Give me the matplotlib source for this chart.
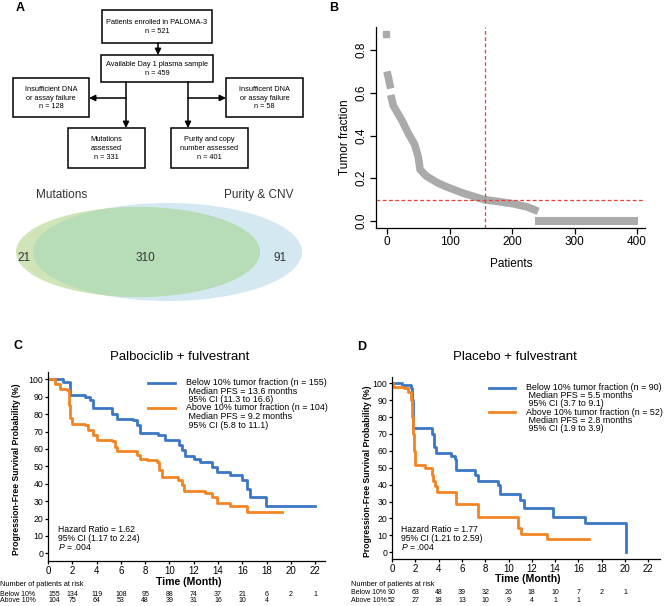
import matplotlib
matplotlib.use("Agg")
import matplotlib.pyplot as plt
from matplotlib.patches import Rectangle, Ellipse
from matplotlib.lines import Line2D
from matplotlib.transforms import blended_transform_factory

plt.rcParams['font.family'] = ['Liberation Sans', 'DejaVu Sans']
plt.rcParams['mathtext.fontset'] = 'custom'
plt.rcParams['mathtext.rm'] = 'Liberation Sans'
plt.rcParams['mathtext.it'] = 'Liberation Sans:italic'

# ---- data ----
flow_labels = ["Patients enrolled in PALOMA-3", "Available Day 1 plasma sample",
               "Insufficient DNA\nor assay failure", "Insufficent DNA\nor assay failure",
               "Mutations\nassessed", "Purity and copy\nnumber assessed"]
flow_n = [521, 459, 128, 58, 331, 401]

venn_sets = ["Mutations", "Purity & CNV"]
venn_counts = [21, 310, 91]

# tumor fraction, sorted
tf_patient = [0, 3, 6, 6, 10, 18, 24, 34, 44, 50, 53, 63, 80, 95, 122, 155, 180, 203, 225, 242]
tf_value = [0.70, 0.66, 0.62, 0.59, 0.54, 0.50, 0.47, 0.41, 0.36, 0.30, 0.24, 0.21, 0.18, 0.16,
            0.13, 0.10, 0.09, 0.08, 0.065, 0.045]
tf_top_patient, tf_top_value = [-1], [0.875]
tf_zero_patient = [236, 401]
tf_zero_value = [0, 0]
tf_cutoff = 0.10
tf_cut_patient = 156

# KM curves
c_below_t = [0, 1.26, 1.8, 3.05, 3.46, 3.7, 5.24, 5.66, 7.03, 7.3, 7.58, 9.09, 9.64, 10.8, 11.0,
             11.3, 12.0, 12.5, 13.5, 13.9, 15.0, 15.95, 16.4, 16.6, 17.96, 22.0]
c_below_s = [100, 98.5, 91, 90, 88, 83.5, 80.3, 77.4, 76.4, 73.6, 69.4, 67.8, 64.9, 62, 59.2,
             55.7, 54.4, 52.5, 49.6, 46.7, 44.8, 42, 37.2, 32.4, 27.2, 27.2]
c_above_t = [0, 0.58, 1.0, 1.54, 1.76, 1.85, 1.95, 3.05, 3.3, 3.7, 4.0, 5.24, 5.5, 5.7, 7.3, 7.58,
             8.13, 8.95, 9.17, 9.36, 10.7, 11.0, 11.2, 12.9, 13.5, 13.9, 15.0, 16.4, 19.3]
c_above_s = [100, 97.5, 94.6, 93.7, 85, 78, 74.5, 73.6, 70.7, 67.8, 65.3, 64.6, 61.1, 58.6, 56.3,
             54.4, 53.8, 52.5, 47.7, 43.9, 42, 39, 36, 34.5, 32.4, 29.1, 27.2, 23.7, 23.7]
d_below_t = [0, 0.83, 1.63, 1.7, 1.78, 1.83, 3.4, 3.6, 3.8, 5.1, 5.4, 5.5, 7.1, 7.4, 9.1, 9.3,
             11.0, 11.3, 13.8, 16.6, 20.1]
d_below_s = [100, 99, 97, 90, 80, 73.4, 70, 62, 58.6, 57, 55, 48.7, 46, 42.2, 40, 34.3,
             31, 26, 21.1, 17.2, 0]
d_above_t = [0, 0.1, 1.0, 1.4, 1.63, 1.75, 1.83, 1.9, 2.0, 2.8, 3.4, 3.55, 3.7, 3.9, 5.5, 7.35,
             10.8, 11.1, 13.3, 16.9]
d_above_s = [100, 98, 97, 95, 90, 80, 70, 60, 51.7, 49.7, 46, 42, 39, 35.9, 28.5, 21,
             14.3, 10.8, 8, 8]

c_title = "Palbociclib + fulvestrant"
d_title = "Placebo + fulvestrant"
c_legend = [["Below 10% tumor fraction (n = 155)", " Median PFS = 13.6 months", " 95% CI (11.3 to 16.6)"],
            ["Above 10% tumor fraction (n = 104)", " Median PFS = 9.2 months", " 95% CI (5.8 to 11.1)"]]
d_legend = [["Below 10% tumor fraction (n = 90)", " Median PFS = 5.5 months", " 95% CI (3.7 to 9.1)"],
            ["Above 10% tumor fraction (n = 52)", " Median PFS = 2.8 months", " 95% CI (1.9 to 3.9)"]]
c_hr = ["Hazard Ratio = 1.62", "95% CI (1.17 to 2.24)", "$P$ = .004"]
d_hr = ["Hazard Ratio = 1.77", "95% CI (1.21 to 2.59)", "$P$ = .004"]

risk_times = [0, 2, 4, 6, 8, 10, 12, 14, 16, 18, 20, 22]
c_risk_below = [155, 134, 119, 108, 95, 88, 74, 37, 21, 6, 2, 1]
c_risk_above = [104, 75, 64, 53, 48, 39, 31, 16, 10, 4]
d_risk_below = [90, 63, 48, 39, 32, 26, 18, 10, 7, 2, 1]
d_risk_above = [52, 27, 18, 13, 10, 9, 4, 1, 1]

BLUE = '#3b77c4'
ORANGE = '#f28522'

W, H = 670, 606
fig = plt.figure(figsize=(W / 100, H / 100), dpi=100)


def rect(l, t, r, b):
    return [l / W, 1 - b / H, (r - l) / W, (b - t) / H]


def ftext(x, y, s, **kw):
    kw.setdefault('va', 'center')
    fig.text(x / W, 1 - y / H, s, **kw)


# panel letters
for lab, x, y in [("A", 20, 8), ("B", 334, 8), ("C", 18, 346), ("D", 362, 347)]:
    ftext(x, y, lab, fontsize=9, fontweight='bold', ha='center')

# ---- A: flowchart + venn ----
axA = fig.add_axes([0, 1 - 310 / H, 330 / W, 310 / H])
axA.set_xlim(0, 330)
axA.set_ylim(310, 0)
axA.axis('off')

boxes = [(102, 10, 212, 43), (101, 55, 213, 82), (13, 78, 89, 117),
         (226, 78, 303, 117), (68, 128, 145, 168), (171, 128, 248, 168)]
for (x0, y0, x1, y1), lab, n in zip(boxes, flow_labels, flow_n):
    axA.add_patch(Rectangle((x0, y0), x1 - x0, y1 - y0, fill=False, lw=1.1, ec='black'))
    axA.text((x0 + x1) / 2, (y0 + y1) / 2 + 0.5, f"{lab}\nn = {n}", ha='center', va='center',
             fontsize=5.3, linespacing=1.35)

arr = dict(arrowstyle='-|>', lw=1.1, color='black', mutation_scale=9, shrinkA=0, shrinkB=0)
axA.annotate("", xy=(158, 55), xytext=(158, 43), arrowprops=arr)
axA.annotate("", xy=(126, 128), xytext=(126, 82), arrowprops=arr)
axA.annotate("", xy=(89, 98), xytext=(126, 98), arrowprops=arr)
axA.annotate("", xy=(188, 128), xytext=(188, 82), arrowprops=arr)
axA.annotate("", xy=(226, 98), xytext=(188, 98), arrowprops=arr)

blue_e = Ellipse((167.5, 252), 269, 98, fc='#d3e8f1', ec='none')
axA.add_patch(blue_e)
axA.add_patch(Ellipse((138, 252), 244, 90, fc='#cfe4b7', ec='none'))
overlap = Ellipse((138, 252), 244, 90, fc='#b6dcb8', ec='none')
axA.add_patch(overlap)
overlap.set_clip_path(blue_e)
axA.text(62, 195, venn_sets[0], ha='center', va='center', fontsize=8.5, color='#333333')
axA.text(259, 195, venn_sets[1], ha='center', va='center', fontsize=8.5, color='#333333')
for x, c in zip([24, 145, 280], venn_counts):
    axA.text(x, 258, str(c), ha='center', va='center', fontsize=8.5, color='#333333')

# ---- B: tumor fraction ----
axB = fig.add_axes(rect(376, 27, 645, 228))
axB.plot(tf_patient[:3], tf_value[:3], color='#aaaaaa', lw=5.5, solid_capstyle='butt')
axB.plot(tf_patient[3:], tf_value[3:], color='#aaaaaa', lw=5.5, solid_capstyle='butt')
axB.plot(tf_top_patient, tf_top_value, 's', color='#aaaaaa', ms=5)
axB.plot(tf_zero_patient, tf_zero_value, color='#aaaaaa', lw=5.8, solid_capstyle='butt')
axB.axhline(tf_cutoff, color='#e8403a', lw=0.9, dashes=(3, 2))
axB.axvline(tf_cut_patient, color='#e8403a', lw=0.9, dashes=(3, 2))
axB.set_xlim(-17.6, 412.8)
axB.set_ylim(-0.033, 0.908)
axB.set_xticks([0, 100, 200, 300, 400])
axB.set_yticks([0.0, 0.2, 0.4, 0.6, 0.8])
axB.set_yticklabels(["0.0", "0.2", "0.4", "0.6", "0.8"])
axB.tick_params(labelsize=8.5, length=4, width=0.9, pad=2)
axB.tick_params(axis='y', labelrotation=90)
for t in axB.get_yticklabels():
    t.set_va('center')
for s in ['top', 'right']:
    axB.spines[s].set_visible(False)
for s in ['left', 'bottom']:
    axB.spines[s].set_linewidth(0.9)
ftext(345, 137, "Tumor fraction", rotation=90, fontsize=8.5, ha='center')
ftext(511, 264, "Patients", fontsize=8.5, ha='center')


# ---- C / D: KM ----
def km_panel(box, xmax, ylim, curves, title, title_xy, legend, leg_x, leg_y, leg_dy,
             hr, hr_x, hr_y, ylab_x, xlab_y, risk, risk_lab_x, risk_y, first_shift):
    ax = fig.add_axes(rect(*box))
    for t, s, c in curves:
        ax.step(t, s, where='post', color=c, lw=2.0)
    ax.set_xlim(0, xmax)
    ax.set_ylim(*ylim)
    ax.set_xticks(risk_times)
    ax.set_yticks(range(0, 101, 10))
    ax.tick_params(axis='x', labelsize=7, length=2.5, width=0.9, pad=0.8)
    ax.tick_params(axis='y', labelsize=6.3, length=2.5, width=0.9, pad=1)
    for s in ['top', 'right']:
        ax.spines[s].set_visible(False)
    for s in ['left', 'bottom']:
        ax.spines[s].set_linewidth(0.9)
    ftext(title_xy[0], title_xy[1], title, fontsize=9.5, ha='center')
    for i, (lines, col) in enumerate(zip(legend, [BLUE, ORANGE])):
        y0 = leg_y + i * 3 * leg_dy
        fig.add_artist(Line2D([leg_x[0] / W, leg_x[1] / W], [1 - y0 / H] * 2, color=col, lw=2.0))
        for j, line in enumerate(lines):
            ftext(leg_x[2], y0 + j * leg_dy, line, fontsize=6.4, ha='left')
    for j, line in enumerate(hr):
        ftext(hr_x, hr_y + j * 8.7, line, fontsize=6.2, ha='left')
    ftext(ylab_x, (box[1] + box[3]) / 2 + 3, "Progression-Free Survival Probability (%)",
          rotation=90, fontsize=6.2, fontweight='bold', ha='center')
    ftext((box[0] + box[2]) / 2 + 2, xlab_y, "Time (Month)", fontsize=7.6, fontweight='bold',
          ha='center')
    ftext(risk_lab_x, risk_y[0], "Number of patients at risk", fontsize=5.3, ha='left')
    tr = blended_transform_factory(ax.transData, fig.transFigure)
    for row, lab, y in zip(risk, ["Below 10%", "Above 10%"], risk_y[1:]):
        ftext(risk_lab_x, y, lab, fontsize=5, ha='left')
        for k, v in enumerate(row):
            x = risk_times[k] + (first_shift if k == 0 else 0)
            ax.text(x, 1 - y / H, str(v), transform=tr, fontsize=5, ha='center', va='center')
    return ax


km_panel((48, 372, 325, 561), 22.8, (-4.4, 104.2),
         [(c_below_t, c_below_s, BLUE), (c_above_t, c_above_s, ORANGE)],
         c_title, (180, 357), c_legend, (148, 175, 186), 382.5, 8.5,
         c_hr, 58, 530, 17, 582, [c_risk_below, c_risk_above], 0, (585, 595, 601), 0.55)

km_panel((392, 377, 660, 559), 23.0, (-4.0, 103.7),
         [(d_below_t, d_below_s, BLUE), (d_above_t, d_above_s, ORANGE)],
         d_title, (515, 357), d_legend, (489, 515, 526), 387.5, 8.2,
         d_hr, 401, 530, 367, 579, [d_risk_below, d_risk_above], 351, (584, 593, 600), 0)

fig.savefig("out.png", dpi=100)
